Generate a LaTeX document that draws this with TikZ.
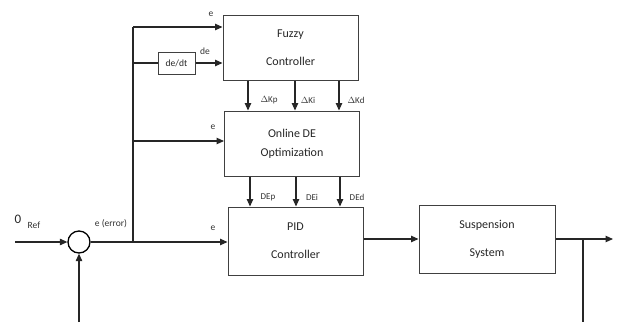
\documentclass[tikz,border=0pt]{standalone}
\usepackage{fontspec}
\setmainfont{Carlito}
\usetikzlibrary{arrows.meta,calc}
\begin{document}
\begin{tikzpicture}[x=1pt,y=-1pt,
  blk/.style={draw=black!75,line width=1pt,minimum width=135pt,minimum height=65pt,
    inner sep=0pt,align=center,font=\fontsize{12}{28}\selectfont,text=black!85},
  smallblk/.style={draw=black!75,line width=1pt,minimum width=37pt,minimum height=22pt,
    inner sep=0pt,font=\fontsize{9.5}{10}\selectfont,text=black!85},
  sumj/.style={circle,draw=black,line width=1.3pt,minimum size=22pt,inner sep=0pt},
  wire/.style={line width=1.1pt,black!85},
  arr/.style={wire,-{Triangle[length=7.5pt,width=6.5pt]}},
  lbl/.style={font=\fontsize{9.5}{10}\selectfont,text=black!80,inner sep=0pt},
  glbl/.style={font=\fontsize{9}{10}\selectfont,text=black!80,inner sep=0pt}]
\useasboundingbox (0,0) rectangle (619,322);

% blocks
\node[blk] (fuzzy) at (290.5,47.5) {Fuzzy\\Controller};
\node[blk] (de) at (292,143.5) {Online DE\\[-9pt]Optimization};
\node[blk,minimum height=68pt] (pid) at (295.5,241) {PID\\Controller};
\node[blk,minimum height=68pt,minimum width=136pt] (sus) at (487,239) {Suspension\\System};
\node[smallblk] (ddt) at (176.5,63) {de/dt};
\node[sumj] (sum) at (79,242) {};

% reference input and error path
\coordinate (in) at (15,242);
\draw[arr] (in) -- (sum.west);
\node[font=\fontsize{13}{13}\selectfont,inner sep=0pt,text=black!85] (zero) at (18,219) {0};
\node[lbl] (ref) at (34,225) {Ref};
\coordinate (br) at (133,242);
\draw[arr] (sum.east) -- (sum.east -| pid.west);
\node[lbl] (err) at (111,224) {e (error)};
\node[lbl] (epid) at (213,228) {e};

% branches to fuzzy controller and optimizer
\coordinate (top) at (133,27);
\draw[wire] (br) -- (top);
\draw[arr] (top) -- (top -| fuzzy.west);
\node[lbl] (efz) at (211,14) {e};
\draw[wire] (ddt.west -| br) -- (ddt.west);
\draw[arr] (ddt.east) -- (ddt.east -| fuzzy.west);
\node[lbl] (dfz) at (205,51) {de};
\coordinate (mid) at (133,141);
\draw[arr] (mid) -- (mid -| de.west);
\node[lbl] (ede) at (213,127) {e};

% gain corrections
\foreach \x in {248,295,339}
  \draw[arr] (\x,0 |- fuzzy.south) -- (\x,0 |- de.north);
\node[glbl] (dkp) at (269,100) {$\Delta$Kp};
\node[glbl] (dki) at (308,100) {$\Delta$Ki};
\node[glbl] (dkd) at (356,100) {$\Delta$Kd};
\foreach \x in {250,296,340}
  \draw[arr] (\x,0 |- de.south) -- (\x,0 |- pid.north);
\node[glbl] (dep) at (268,197) {DEp};
\node[glbl] (dei) at (312,197) {DEi};
\node[glbl] (ded) at (357,197) {DEd};

% plant and output
\draw[arr] (pid.east |- sus.west) -- (sus.west);
\coordinate (out) at (613,239);
\coordinate (tap) at (583,239);
\draw[arr] (sus.east) -- (out);
\coordinate (fbr) at (583,322);
\draw[wire] (tap) -- (fbr);
\coordinate (fbl) at (79,322);
\draw[arr] (fbl) -- (sum.south);
\end{tikzpicture}
\end{document}
